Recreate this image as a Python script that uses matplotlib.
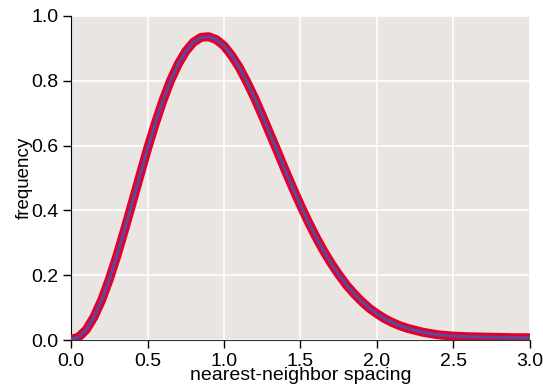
import matplotlib
matplotlib.use("Agg")
import matplotlib.pyplot as plt

# nearest-neighbor spacing and frequency
spacing = [0.0, 0.05, 0.1, 0.15, 0.2, 0.25, 0.3, 0.35, 0.4, 0.45, 0.5,
           0.55, 0.6, 0.65, 0.7, 0.75, 0.8, 0.85, 0.9, 0.95, 1.0,
           1.05, 1.1, 1.15, 1.2, 1.25, 1.3, 1.35, 1.4, 1.45, 1.5,
           1.55, 1.6, 1.65, 1.7, 1.75, 1.8, 1.85, 1.9, 1.95, 2.0,
           2.05, 2.1, 2.15, 2.2, 2.3, 2.4, 2.5, 2.6, 2.7, 2.8, 2.9, 3.0]
freq = [0.002, 0.009, 0.032, 0.071, 0.123, 0.187, 0.260, 0.340, 0.423, 0.507, 0.590,
        0.667, 0.738, 0.800, 0.851, 0.891, 0.919, 0.934, 0.936, 0.927, 0.908,
        0.878, 0.841, 0.796, 0.747, 0.693, 0.637, 0.581, 0.524, 0.469, 0.416,
        0.366, 0.319, 0.276, 0.237, 0.202, 0.170, 0.143, 0.119, 0.098, 0.081,
        0.066, 0.054, 0.044, 0.036, 0.024, 0.016, 0.012, 0.010, 0.009, 0.008, 0.007, 0.007]

xticks = [0.0, 0.5, 1.0, 1.5, 2.0, 2.5, 3.0]
yticks = [0.0, 0.2, 0.4, 0.6, 0.8, 1.0]

plt.rcParams['font.family'] = ['Liberation Sans', 'DejaVu Sans']

fig = plt.figure(figsize=(5.43, 3.91), dpi=100)
ax = fig.add_axes([0.1308, 0.1304, 0.8452, 0.8287])
ax.set_facecolor('#E9E5E2')

ax.plot(spacing, freq, color='#E3002B', lw=6.5, solid_capstyle='butt',
        solid_joinstyle='round', zorder=3)
ax.plot(spacing, freq, color='#5A4A9E', lw=2.2, solid_joinstyle='round', zorder=4)

ax.set_xlim(0, 3.0)
ax.set_ylim(0, 1.0)
ax.set_xticks(xticks)
ax.set_yticks(yticks)
ax.set_xticklabels(['%.1f' % t for t in xticks])
ax.set_yticklabels(['%.1f' % t for t in yticks])
ax.grid(True, color='white', lw=1.2)
ax.set_axisbelow(True)

for s in ['top', 'right']:
    ax.spines[s].set_visible(False)
ax.spines['left'].set_color('black')
ax.spines['bottom'].set_color('#333333')
ax.tick_params(direction='out', length=6, width=1, pad=3, labelsize=14, colors='black')

ax.set_xlabel('nearest-neighbor spacing', fontsize=14, labelpad=-2)
ax.set_ylabel('frequency', fontsize=13.5, labelpad=-1)

fig.savefig('out.png', dpi=100)
